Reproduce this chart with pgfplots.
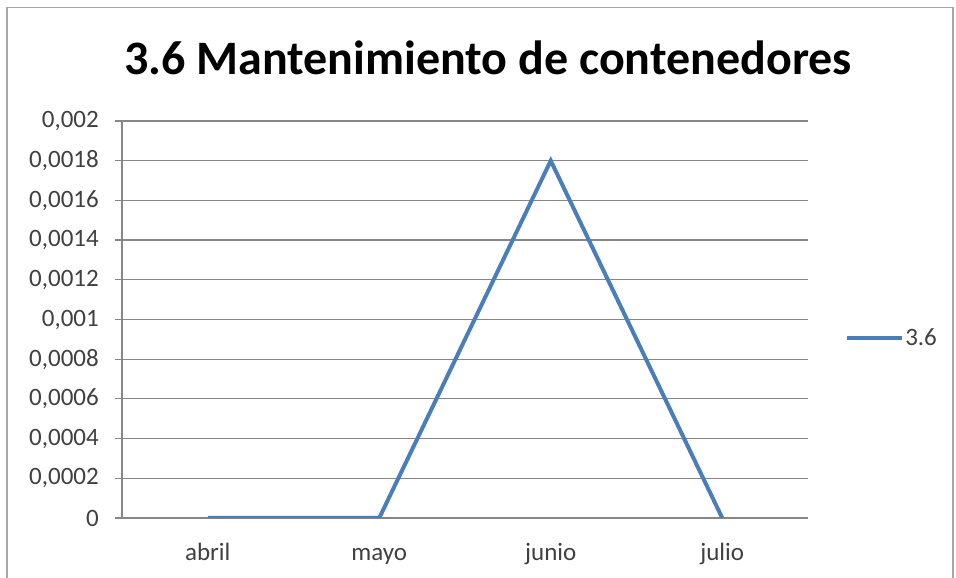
\documentclass[border=0pt]{standalone}
\usepackage{fontspec}
\setmainfont{Carlito}
\usepackage{pgfplots}
\pgfplotsset{compat=1.18}
\definecolor{linec}{HTML}{4A7EBB}
\definecolor{gridc}{HTML}{868686}
\definecolor{txt}{HTML}{404040}
\begin{document}
\begin{tikzpicture}[x=1pt,y=1pt]
\useasboundingbox (0,0) rectangle (956,578);
\draw[gray!70, line width=1.5pt] (7,0) -- (7,570.5) -- (953,570.5) -- (953,0);
\begin{axis}[
  at={(122pt,60pt)}, anchor=south west,
  scale only axis, width=686pt, height=397pt,
  xmin=-0.5, xmax=3.5, ymin=0, ymax=0.002,
  /pgf/number format/assume math mode=true,
  axis line style={gridc, line width=1.2pt},
  axis x line*=bottom, axis y line*=left,
  xtick={0,1,2,3},
  xticklabels={abril,mayo,junio,julio},
  minor xtick={-0.5,0.5,1.5,2.5,3.5},
  ytick={0,0.0002,0.0004,0.0006,0.0008,0.001,0.0012,0.0014,0.0016,0.0018,0.002},
  yticklabels={0,{0,0002},{0,0004},{0,0006},{0,0008},{0,001},{0,0012},{0,0014},{0,0016},{0,0018},{0,002}},
  scaled y ticks=false,
  ymajorgrids,
  grid style={gridc, line width=1.2pt},
  tick align=outside,
  x tick style={draw=none},
  minor x tick style={gridc, line width=1.2pt},
  minor tick length=7pt,
  y tick style={gridc, line width=1.2pt},
  major tick length=7pt,
  tick label style={font=\fontsize{25}{28}\selectfont, text=txt, inner sep=0pt},
  xticklabel style={anchor=base, yshift=-36pt},
  yticklabel style={anchor=east, xshift=-16pt},
  title={\fontsize{48}{54}\selectfont\bfseries 3.6 Mantenimiento de contenedores},
  title style={at={(0.5,1)}, anchor=base, yshift=40pt, xshift=23pt},
  legend style={at={(1.0540,0.4534)}, anchor=west, draw=none, fill=none,
    font=\fontsize{25}{28}\selectfont, text=txt, inner sep=0pt,
    nodes={inner sep=1pt}},
  legend cell align=left,
  legend image code/.code={\draw[#1, line width=4pt] (0pt,0pt) -- (55pt,0pt);},
]
\addplot[linec, line width=4pt, mark=none] coordinates {(0,0) (1,0) (2,0.0018) (3,0)};
\addlegendentry{3.6}
\end{axis}
\end{tikzpicture}
\end{document}
